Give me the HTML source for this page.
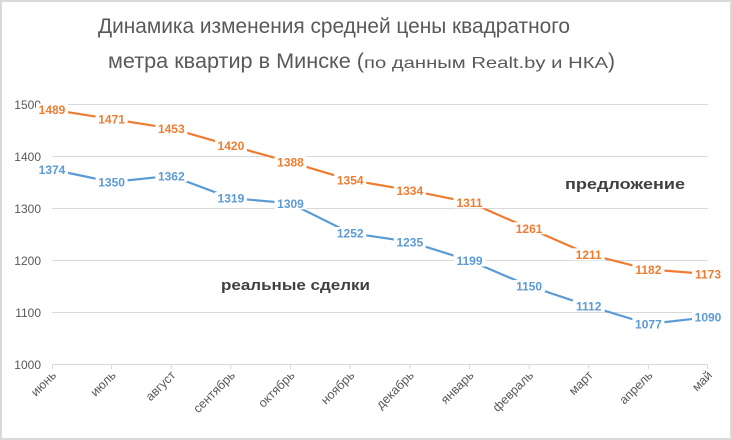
<!DOCTYPE html>
<html><head><meta charset="utf-8"><style>
html,body{margin:0;padding:0;background:#fff}
svg{display:block}
text{font-family:"Liberation Sans","DejaVu Sans",sans-serif}
</style></head><body>
<svg width="732" height="440" viewBox="0 0 732 440" xmlns="http://www.w3.org/2000/svg">
<rect x="1" y="1" width="730" height="438" fill="#fff" stroke="#d9d9d9" stroke-width="2"/>
<text x="334" y="33" text-anchor="middle" font-size="21" fill="#595959" textLength="472" lengthAdjust="spacingAndGlyphs">Динамика изменения средней цены квадратного</text>
<text x="108" y="68" font-size="21" fill="#595959">
<tspan textLength="256" lengthAdjust="spacingAndGlyphs">метра квартир в Минске (</tspan><tspan font-size="16" textLength="244" lengthAdjust="spacingAndGlyphs">по данным Realt.by и НКА</tspan><tspan>)</tspan></text>
<g stroke="#d9d9d9" stroke-width="1">
<line x1="52" y1="104.5" x2="708" y2="104.5"/>
<line x1="52" y1="156.5" x2="708" y2="156.5"/>
<line x1="52" y1="208.5" x2="708" y2="208.5"/>
<line x1="52" y1="260.5" x2="708" y2="260.5"/>
<line x1="52" y1="312.5" x2="708" y2="312.5"/>
<line x1="52" y1="364.5" x2="708" y2="364.5"/>
<path d="M52.5 364v5M111.6 364v5M171.3 364v5M230.9 364v5M290.5 364v5M350.2 364v5M409.8 364v5M469.5 364v5M529.1 364v5M588.7 364v5M648.4 364v5M707.5 364v5"/>
</g>
<g font-size="12" fill="#595959" text-anchor="end">
<text x="41" y="109">1500</text>
<text x="41" y="161">1400</text>
<text x="41" y="213">1300</text>
<text x="41" y="265">1200</text>
<text x="41" y="317">1100</text>
<text x="41" y="369">1000</text>
</g>
<g font-size="12.5" fill="#595959" text-anchor="end">
<text transform="translate(57,376) rotate(-45)">июнь</text>
<text transform="translate(116.6,376) rotate(-45)">июль</text>
<text transform="translate(176.3,376) rotate(-45)">август</text>
<text transform="translate(235.9,376) rotate(-45)">сентябрь</text>
<text transform="translate(295.5,376) rotate(-45)">октябрь</text>
<text transform="translate(355.2,376) rotate(-45)">ноябрь</text>
<text transform="translate(414.8,376) rotate(-45)">декабрь</text>
<text transform="translate(474.5,376) rotate(-45)">январь</text>
<text transform="translate(534.1,376) rotate(-45)">февраль</text>
<text transform="translate(593.7,376) rotate(-45)">март</text>
<text transform="translate(653.4,376) rotate(-45)">апрель</text>
<text transform="translate(713,376) rotate(-45)">май</text>
</g>
<polyline fill="none" stroke="#ED7D31" stroke-width="2.2" stroke-linejoin="round" points="52,109.7 111.6,119.1 171.3,128.4 230.9,145.6 290.5,162.2 350.2,179.9 409.8,190.3 469.5,202.3 529.1,228.3 588.7,254.3 648.4,269.4 708,274"/>
<polyline fill="none" stroke="#5B9BD5" stroke-width="2.2" stroke-linejoin="round" points="52,169.5 111.6,182 171.3,175.8 230.9,198.1 290.5,203.3 350.2,233 409.8,241.8 469.5,260.5 529.1,286 588.7,305.8 648.4,324 708,317.2"/>
<g fill="#fff">
<rect x="36" y="103.7" width="32" height="12"/><rect x="95.6" y="113.1" width="32" height="12"/><rect x="155.3" y="122.4" width="32" height="12"/><rect x="214.9" y="139.6" width="32" height="12"/><rect x="274.5" y="156.2" width="32" height="12"/><rect x="334.2" y="173.9" width="32" height="12"/><rect x="393.8" y="184.3" width="32" height="12"/><rect x="453.5" y="196.3" width="32" height="12"/><rect x="513.1" y="222.3" width="32" height="12"/><rect x="572.7" y="248.3" width="32" height="12"/><rect x="632.4" y="263.4" width="32" height="12"/><rect x="692" y="268" width="32" height="12"/>
<rect x="36" y="163.5" width="32" height="12"/><rect x="95.6" y="176" width="32" height="12"/><rect x="155.3" y="169.8" width="32" height="12"/><rect x="214.9" y="192.1" width="32" height="12"/><rect x="274.5" y="197.3" width="32" height="12"/><rect x="334.2" y="227" width="32" height="12"/><rect x="393.8" y="235.8" width="32" height="12"/><rect x="453.5" y="254.5" width="32" height="12"/><rect x="513.1" y="280" width="32" height="12"/><rect x="572.7" y="299.8" width="32" height="12"/><rect x="632.4" y="318" width="32" height="12"/><rect x="692" y="311.2" width="32" height="12"/>
</g>
<g font-size="12" font-weight="bold" fill="#ED7D31" text-anchor="middle">
<text x="52" y="114.2">1489</text><text x="111.6" y="123.6">1471</text><text x="171.3" y="132.9">1453</text><text x="230.9" y="150.1">1420</text><text x="290.5" y="166.7">1388</text><text x="350.2" y="184.4">1354</text><text x="409.8" y="194.8">1334</text><text x="469.5" y="206.8">1311</text><text x="529.1" y="232.8">1261</text><text x="588.7" y="258.8">1211</text><text x="648.4" y="273.9">1182</text><text x="708" y="278.5">1173</text>
</g>
<g font-size="12" font-weight="bold" fill="#5B9BD5" text-anchor="middle">
<text x="52" y="174">1374</text><text x="111.6" y="186.5">1350</text><text x="171.3" y="180.3">1362</text><text x="230.9" y="202.6">1319</text><text x="290.5" y="207.8">1309</text><text x="350.2" y="237.5">1252</text><text x="409.8" y="246.3">1235</text><text x="469.5" y="265">1199</text><text x="529.1" y="290.5">1150</text><text x="588.7" y="310.3">1112</text><text x="648.4" y="328.5">1077</text><text x="708" y="321.7">1090</text>
</g>
<text x="565" y="189" font-size="15" font-weight="bold" fill="#404040" textLength="120" lengthAdjust="spacingAndGlyphs">предложение</text>
<text x="221" y="290" font-size="15" font-weight="bold" fill="#404040" textLength="149" lengthAdjust="spacingAndGlyphs">реальные сделки</text>
</svg>
</body></html>
